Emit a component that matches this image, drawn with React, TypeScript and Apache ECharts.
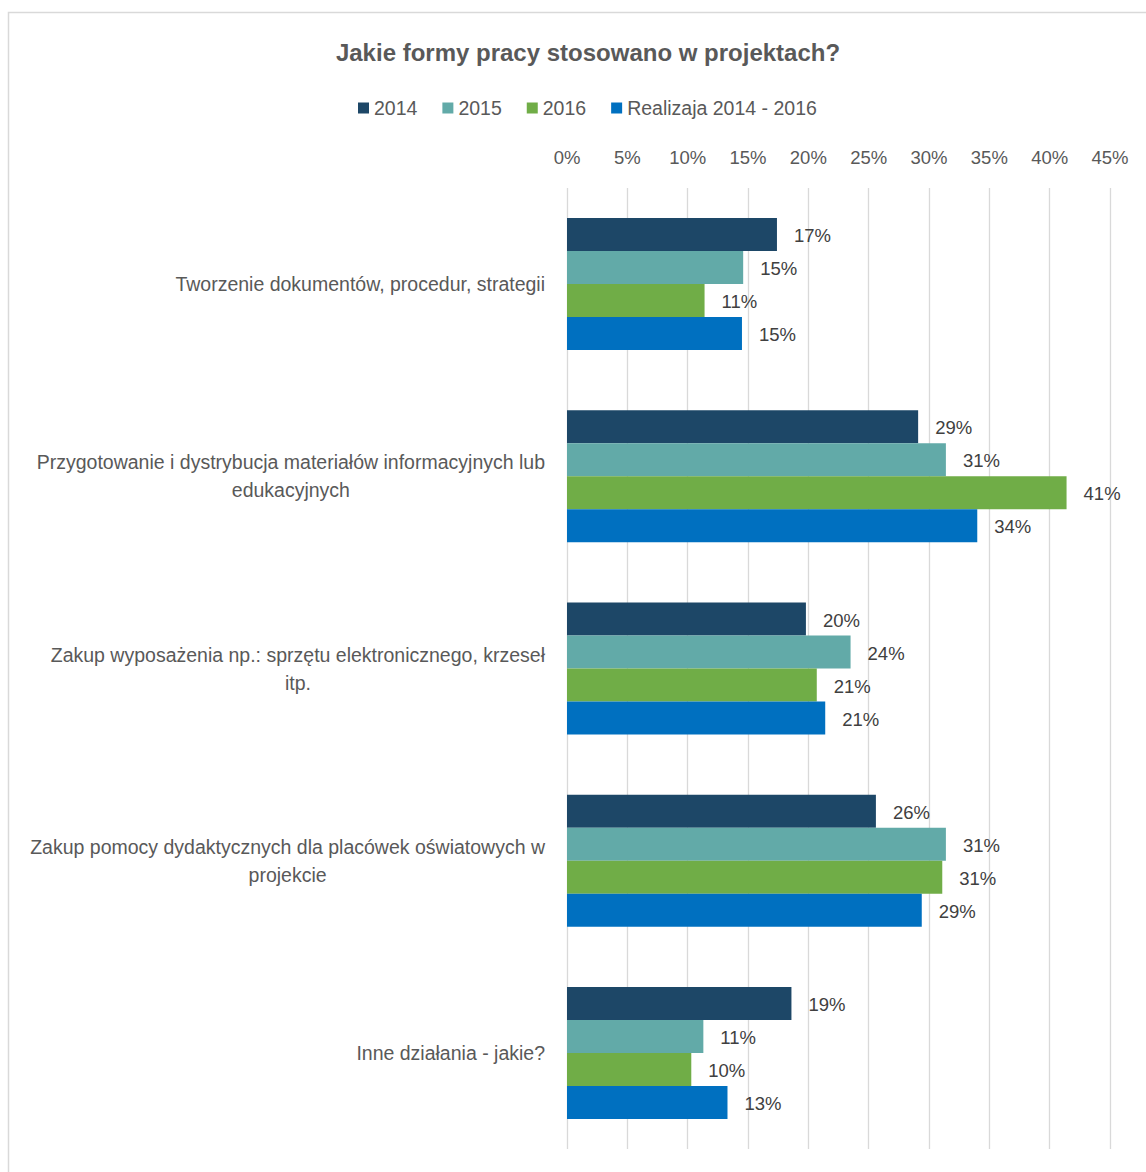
import React, { useEffect, useRef } from "react";
import * as echarts from "echarts";

const categories = [
  "Tworzenie dokumentów, procedur, strategii",
  "Przygotowanie i dystrybucja materiałów informacyjnych lub\nedukacyjnych",
  "Zakup wyposażenia np.: sprzętu elektronicznego, krzeseł\nitp.",
  "Zakup pomocy dydaktycznych dla placówek oświatowych w\nprojekcie",
  "Inne działania - jakie?",
];

const seriesNames = ["2014", "2015", "2016", "Realizaja 2014 - 2016"];
const values2014 = [17.4, 29.1, 19.8, 25.6, 18.6];
const values2015 = [14.6, 31.4, 23.5, 31.4, 11.3];
const values2016 = [11.4, 41.4, 20.7, 31.1, 10.3];
const valuesAll = [14.5, 34.0, 21.4, 29.4, 13.3];
const colors = ["#1D4767", "#62AAA8", "#70AD47", "#0070C0"];

const FONT = "'Liberation Sans Narrow', 'Arial Narrow', 'Liberation Sans', Arial, sans-serif";
const TXT = "#595959";

export default function App() {
  const ref = useRef<HTMLDivElement>(null);
  useEffect(() => {
    if (!ref.current) return;
    const chart = echarts.init(ref.current, undefined, { renderer: "svg" });
    const data = [values2014, values2015, values2016, valuesAll];
    chart.setOption({
      animation: false,
      backgroundColor: "#ffffff",
      textStyle: { fontFamily: FONT },
      graphic: [
        {
          type: "rect",
          shape: { x: 8.5, y: 12.5, width: 1170, height: 1200 },
          style: { fill: "none", stroke: "#d9d9d9", lineWidth: 1.5 },
          silent: true,
        },
      ],
      title: {
        text: "Jakie formy pracy stosowano w projektach?",
        left: 583,
        textAlign: "center",
        top: 35,
        textStyle: { fontFamily: FONT, fontSize: 24, fontWeight: "bold", color: TXT },
      },
      legend: {
        left: 353,
        top: 93,
        itemWidth: 11,
        itemHeight: 11,
        itemGap: 25,
        icon: "rect",
        textStyle: { fontFamily: FONT, fontSize: 19.5, color: TXT },
        data: seriesNames,
      },
      grid: { left: 567, right: 36, top: 188, bottom: 23, containLabel: false, outerBoundsMode: "none" },
      xAxis: {
        type: "value",
        position: "top",
        min: 0,
        max: 45,
        interval: 5,
        axisLine: { show: false },
        axisTick: { show: false },
        splitLine: { show: true, lineStyle: { color: "#d9d9d9", width: 1.3 } },
        axisLabel: { formatter: "{value}%", fontFamily: FONT, fontSize: 18.5, color: TXT, margin: 21 },
      },
      yAxis: {
        type: "category",
        inverse: true,
        data: categories,
        axisLine: { show: false },
        axisTick: { show: false },
        axisLabel: {
          margin: 22,
          formatter: (v: string) => v.split("\n").map((l) => `{c|${l}}`).join("\n"),
          rich: {
            c: { align: "center", fontFamily: FONT, fontSize: 19.5, color: TXT, lineHeight: 28 },
          },
        },
      },
      series: seriesNames.map((name, i) => ({
        name,
        type: "bar",
        data: data[i],
        barWidth: 33,
        barGap: "0%",
        itemStyle: { color: colors[i] },
        label: {
          show: true,
          position: "right",
          distance: 17,
          offset: [0, 1],
          formatter: (p: any) => `${Math.round(p.value)}%`,
          fontFamily: FONT,
          fontSize: 18.5,
          color: "#404040",
        },
      })),
    });
    return () => chart.dispose();
  }, []);
  return (
    <div
      ref={ref}
      style={{ position: "fixed", left: 0, top: 0, width: 1146, height: 1172 }}
    />
  );
}
